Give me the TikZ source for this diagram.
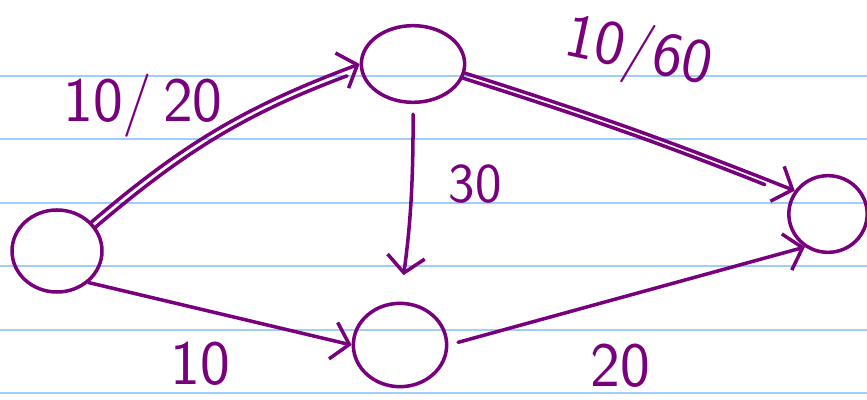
\documentclass[tikz,border=0pt]{standalone}
\usetikzlibrary{shapes.geometric,arrows.meta}
\definecolor{ink}{RGB}{120,0,125}
\definecolor{ruling}{RGB}{160,205,250}
\tikzset{
  vertex/.style={draw=ink, ellipse, line width=3pt, inner sep=0pt},
  flow/.style={draw=ink, line width=3pt, line cap=round,
    -{Straight Barb[length=14pt, width=32pt, line width=3pt]}},
  twin/.style={draw=ink, line width=3pt, line cap=round},
  amount/.style={text=ink, font=\sffamily\fontsize{54}{54}\selectfont}
}
\begin{document}
\begin{tikzpicture}[x=0.03cm, y=-0.03cm]
        % Paper with ruled lines
        \useasboundingbox (0,0) rectangle (867,400);
        \fill[white] (0,0) rectangle (867,400);
        \foreach \yy in {76,139,203,266,330,393}
          \draw[ruling, line width=1.6pt] (0,\yy) -- (867,\yy);

        % Vertices
        \node[vertex, minimum width=2.7cm, minimum height=2.46cm] (s) at (57,251) {};
        \node[vertex, minimum width=3.1cm, minimum height=2.3cm] (a) at (413,64) {};
        \node[vertex, minimum width=2.8cm, minimum height=2.5cm] (b) at (400,345) {};
        \node[vertex, minimum width=2.35cm, minimum height=2.3cm] (t) at (828,214) {};

        % Doubled edges (flow on them)
        \draw[flow] (s.40) to[bend left=10] (a.west);
        \draw[twin, transform canvas={shift={(3,6)}}, shorten >=0.5cm] (s.40) to[bend left=10] (a.west);
        \draw[flow] (a.-10) to[bend left=2] (t.145);
        \draw[twin, transform canvas={shift={(-2,5)}}, shorten >=0.9cm] (a.-10) to[bend left=2] (t.145);

        % Single edges
        \draw[flow, shorten <=0.3cm, shorten >=0.8cm] (a.south) to[bend left=4] (b.north);
        \draw[flow] (s.-45) -- (b.west);
        \draw[flow, shorten <=0.3cm] (b.east) -- (t.235);

        % Capacities
        \node[amount] (l1) at (143,106) {10/\,20};
        \node[amount, rotate=-12] (l2) at (638,54) {10/60};
        \node[amount, font=\sffamily\fontsize{48}{48}\selectfont] (l3) at (475,184) {30};
        \node[amount] (l4) at (200,364) {10};
        \node[amount] (l5) at (620,366) {20};
\end{tikzpicture}
\end{document}
